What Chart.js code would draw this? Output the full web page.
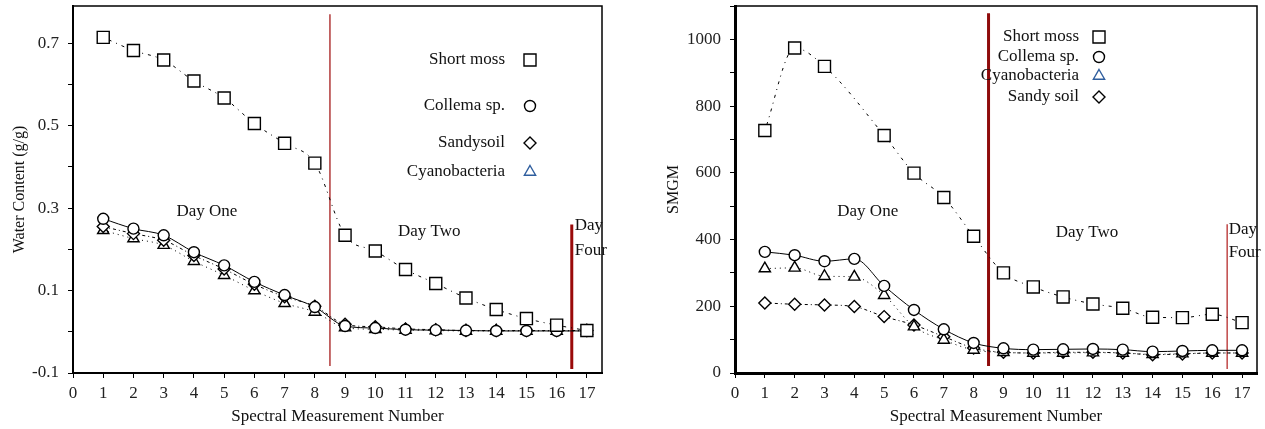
<!DOCTYPE html>
<html>
<head>
<title>Water content and SMGM</title>
<script src="https://cdn.jsdelivr.net/npm/chart.js@4.4.2/dist/chart.umd.js"></script>
<style>
html, body {
    margin: 0;
    padding: 0;
    background: #fff;
}
#left { position: absolute; left: 0; top: 0; }
#right { position: absolute; left: 632px; top: 0; }
</style>
</head>
<body>
<canvas id="left" width="632" height="429"></canvas>
<canvas id="right" width="633" height="429"></canvas>
<script>
// measurement numbers shared by both panels
const measurement = [1, 2, 3, 4, 5, 6, 7, 8, 9, 10, 11, 12, 13, 14, 15, 16, 17];

// left panel: water content (g/g)
const waterShortMoss = [0.714, 0.682, 0.659, 0.608, 0.567, 0.505, 0.457, 0.409, 0.234, 0.196, 0.151, 0.117, 0.082, 0.054, 0.032, 0.016, 0.003];
const waterCollema   = [0.274, 0.250, 0.234, 0.193, 0.161, 0.121, 0.089, 0.060, 0.014, 0.009, 0.005, 0.004, 0.003, 0.002, 0.002, 0.002, 0.002];
const waterSandySoil = [0.255, 0.238, 0.222, 0.185, 0.152, 0.115, 0.085, 0.062, 0.018, 0.012, 0.007, 0.005, 0.003, 0.003, 0.003, 0.003, 0.003];
const waterCyano     = [0.246, 0.226, 0.210, 0.171, 0.137, 0.100, 0.069, 0.048, 0.010, 0.006, 0.004, 0.003, 0.002, 0.002, 0.002, 0.002, 0.002];

// right panel: SMGM (short moss has no value at measurement 4)
const smgmShortMoss = [727, 974, 919, null, 712, 599, 526, 410, 300, 258, 228, 207, 194, 167, 166, 176, 151];
const smgmCollema   = [363, 353, 335, 342, 261, 189, 131, 90, 74, 70, 71, 72, 70, 64, 66, 68, 68];
const smgmCyano     = [313, 315, 290, 288, 233, 139, 99, 69, 62, 60, 60, 61, 60, 56, 58, 60, 60];
const smgmSandySoil = [210, 206, 204, 199, 169, 144, 109, 75, 62, 60, 62, 62, 60, 55, 57, 60, 60];

// day boundaries (x) with the extent of each marker line
const dayBreaks = [8.5, 16.5];
const waterBreakTop = [0.77, 0.26];
const waterBreakBottom = [-0.083, -0.09];
const smgmBreakTop = [1078, 446];
const smgmBreakBottom = [21, 12];

const serif = "'Liberation Serif', 'DejaVu Serif', serif";
Chart.defaults.font.family = serif;
Chart.defaults.color = '#111';

const pairs = (ys) => measurement.map((x, i) => ({x: x, y: ys[i]}));

const series = (label, ys, style, radius, dash, width) => ({
    label: label,
    data: pairs(ys),
    borderColor: '#000',
    borderWidth: width,
    borderDash: dash,
    backgroundColor: '#fff',
    pointStyle: style,
    pointRadius: radius,
    pointBorderWidth: 1.4,
    pointBorderColor: '#000',
    pointBackgroundColor: '#fff',
    cubicInterpolationMode: 'monotone',
    spanGaps: true
});

const breakLine = (x, top, bottom, color, width) => ({
    label: '',
    data: [{x: x, y: top}, {x: x, y: bottom}],
    borderColor: color,
    borderWidth: width,
    pointRadius: 0,
    order: 10
});

function marker(ctx, style, x, y, r) {
    ctx.beginPath();
    if (style === 'rect') {
        const s = r * Math.SQRT1_2;
        ctx.rect(x - s, y - s, 2 * s, 2 * s);
    } else if (style === 'circle') {
        ctx.arc(x, y, r, 0, Math.PI * 2);
    } else if (style === 'rectRot') {
        ctx.moveTo(x - r, y); ctx.lineTo(x, y - r); ctx.lineTo(x + r, y); ctx.lineTo(x, y + r);
        ctx.closePath();
    } else {
        const w = r * Math.sin(Math.PI / 3);
        ctx.moveTo(x, y - r); ctx.lineTo(x + w, y + r / 2); ctx.lineTo(x - w, y + r / 2);
        ctx.closePath();
    }
    ctx.fill();
    ctx.stroke();
}

// frame, legend and day captions
const extras = {
    id: 'extras',
    afterDatasetsDraw(chart, args, opts) {
        const ctx = chart.ctx;
        const a = chart.chartArea;
        const sx = chart.scales.x, sy = chart.scales.y;
        ctx.save();
        ctx.strokeStyle = '#000';
        ctx.lineWidth = 1.5;
        ctx.strokeRect(a.left, a.top, a.right - a.left, a.bottom - a.top);

        ctx.font = '17px ' + serif;
        ctx.fillStyle = '#111';
        ctx.textBaseline = 'middle';
        opts.days.forEach(d => {
            ctx.textAlign = d.align;
            ctx.fillText(d.text, sx.getPixelForValue(d.x), sy.getPixelForValue(d.y));
        });

        const lg = opts.legend;
        lg.items.forEach((idx, row) => {
            const ds = chart.data.datasets[idx];
            const y = lg.rows[row];
            ctx.textAlign = 'right';
            ctx.fillStyle = '#111';
            ctx.fillText(ds.label, lg.textRight, y);
            ctx.fillStyle = '#fff';
            ctx.strokeStyle = ds.pointStyle === 'triangle' ? '#2f5e9e' : '#000';
            ctx.lineWidth = 1.4;
            marker(ctx, ds.pointStyle, lg.markerX, y, ds.pointRadius);
        });
        ctx.restore();
    }
};

function makeChart(id, cfg) {
    return new Chart(document.getElementById(id), {
        type: 'line',
        data: {datasets: cfg.datasets},
        options: {
            responsive: false,
            animation: false,
            layout: {autoPadding: false, padding: {top: 6, right: cfg.padRight, left: 0, bottom: 0}},
            plugins: {
                legend: {display: false},
                tooltip: {enabled: false},
                extras: {days: cfg.days, legend: cfg.legend}
            },
            scales: {
                x: {
                    type: 'linear',
                    min: 0,
                    max: 17.5,
                    afterFit: s => { s.height = 56; s.paddingLeft = 0; s.paddingRight = 0; },
                    border: {color: '#000', width: cfg.axisWidth},
                    grid: {drawOnChartArea: false, color: '#000', tickLength: 5},
                    ticks: {stepSize: 1, includeBounds: false, padding: 5, font: {size: 17}, color: '#222'},
                    title: {display: true, text: 'Spectral Measurement Number', font: {size: 17}, color: '#111', padding: {top: 0, bottom: 2}}
                },
                y: {
                    min: cfg.yMin,
                    max: cfg.yMax,
                    afterFit: s => { s.width = cfg.yWidth; s.paddingTop = 0; s.paddingBottom = 0; },
                    border: {color: '#000', width: cfg.axisWidth},
                    grid: {drawOnChartArea: false, color: '#000', tickLength: 5},
                    ticks: {stepSize: cfg.yStep, includeBounds: false, padding: 9, font: {size: 17}, color: '#222', callback: cfg.yLabel},
                    title: {display: true, text: cfg.yTitle, font: {size: 16}, color: '#111', padding: {top: cfg.yTitlePad, bottom: 0}}
                }
            }
        },
        plugins: [extras]
    });
}

makeChart('left', {
    datasets: [
        series('Short moss', waterShortMoss, 'rect', 8.5, [1, 5, 3, 5], 1),
        series('Collema sp.', waterCollema, 'circle', 5.5, [], 1),
        series('Sandysoil', waterSandySoil, 'rectRot', 6, [3, 3, 1, 3], 1),
        series('Cyanobacteria', waterCyano, 'triangle', 6.5, [1, 4], 1),
        breakLine(dayBreaks[0], waterBreakTop[0], waterBreakBottom[0], '#b23a3a', 1.5),
        breakLine(dayBreaks[1], waterBreakTop[1], waterBreakBottom[1], '#9a0a0a', 3)
    ],
    padRight: 30,
    yWidth: 73,
    axisWidth: 2,
    yMin: -0.1,
    yMax: 0.79,
    yStep: 0.1,
    yLabel: v => (Math.round(v * 10) % 2 !== 0) ? v.toFixed(1) : '',
    yTitle: 'Water Content (g/g)',
    yTitlePad: 10,
    days: [
        {text: 'Day One', x: 4.43, y: 0.292, align: 'center'},
        {text: 'Day Two', x: 10.75, y: 0.243, align: 'left'},
        {text: 'Day', x: 16.6, y: 0.258, align: 'left'},
        {text: 'Four', x: 16.6, y: 0.196, align: 'left'}
    ],
    legend: {items: [0, 1, 2, 3], rows: [60, 106, 143, 172], textRight: 505, markerX: 530}
});

makeChart('right', {
    datasets: [
        series('Short moss', smgmShortMoss, 'rect', 8.5, [1, 5, 3, 5], 1),
        series('Collema sp.', smgmCollema, 'circle', 5.5, [], 1),
        series('Cyanobacteria', smgmCyano, 'triangle', 6.5, [1, 4], 1),
        series('Sandy soil', smgmSandySoil, 'rectRot', 6, [3, 3, 1, 3], 1),
        breakLine(dayBreaks[0], smgmBreakTop[0], smgmBreakBottom[0], '#8e0b0b', 3),
        breakLine(dayBreaks[1], smgmBreakTop[1], smgmBreakBottom[1], '#c04848', 1.5)
    ],
    padRight: 8,
    yWidth: 103,
    axisWidth: 3,
    yMin: 0,
    yMax: 1100,
    yStep: 100,
    yLabel: v => (v % 200 === 0) ? String(v) : '',
    yTitle: 'SMGM',
    yTitlePad: 32,
    days: [
        {text: 'Day One', x: 4.45, y: 485, align: 'center'},
        {text: 'Day Two', x: 10.75, y: 422, align: 'left'},
        {text: 'Day', x: 16.55, y: 431, align: 'left'},
        {text: 'Four', x: 16.55, y: 362, align: 'left'}
    ],
    legend: {items: [0, 1, 2, 3], rows: [37, 57, 76, 97], textRight: 447, markerX: 467}
});
</script>
</body>
</html>
